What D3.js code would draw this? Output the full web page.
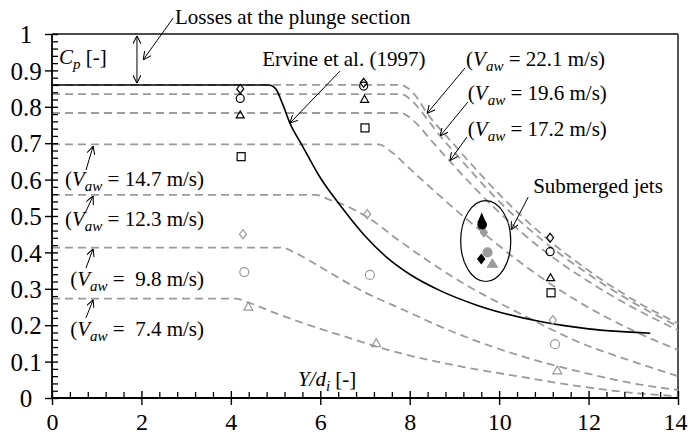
<!DOCTYPE html>
<html>
<head>
<meta charset="utf-8">
<script src="https://cdn.jsdelivr.net/npm/d3@7"></script>
<style>
  html, body { margin: 0; padding: 0; background: #fff; }
  svg { display: block; font-family: "Liberation Serif", "Times New Roman", serif; }
</style>
</head>
<body>
<svg id="chart" width="688" height="438"></svg>
<script>
// ---------- axis ticks ----------
const xTickVals = [0, 2, 4, 6, 8, 10, 12, 14];
const xTickLabels = ["0", "2", "4", "6", "8", "10", "12", "14"];
const yTickVals = [0, 0.1, 0.2, 0.3, 0.4, 0.5, 0.6, 0.7, 0.8, 0.9, 1];
const yTickLabels = ["0", "0.1", "0.2", "0.3", "0.4", "0.5", "0.6", "0.7", "0.8", "0.9", "1"];

// ---------- model curves, [Y/di, Cp] ----------
const curve221 = [[0,0.86],[7.8,0.86],[8.1,0.835],[8.39,0.782],[9,0.695],[10,0.56],[11,0.445],[12,0.35],[13,0.27],[14,0.205]];
const curve196 = [[0,0.835],[7.8,0.835],[8.1,0.81],[8.4,0.765],[8.68,0.72],[9,0.675],[10,0.54],[11,0.43],[12,0.34],[13,0.262],[14,0.197]];
const curve172 = [[0,0.783],[7.8,0.783],[8.1,0.76],[8.5,0.705],[8.9,0.65],[10,0.51],[11,0.405],[12,0.32],[13,0.248],[14,0.186]];
const curve147 = [[0,0.697],[7.3,0.697],[7.6,0.675],[8,0.63],[9,0.52],[9.66,0.452],[10.5,0.37],[11.81,0.262],[13,0.185],[14,0.132]];
const curve123 = [[0,0.558],[5.9,0.558],[6.2,0.545],[6.44,0.535],[7.05,0.497],[7.79,0.43],[9.13,0.32],[10.5,0.23],[11.81,0.152],[13,0.1],[14,0.06]];
const curve98  = [[0,0.413],[5.15,0.413],[5.45,0.398],[6,0.36],[6.44,0.328],[7,0.29],[7.79,0.246],[9,0.18],[10.5,0.115],[11.81,0.072],[13,0.04],[14,0.022]];
const curve74  = [[0,0.273],[4.1,0.273],[4.4,0.262],[5,0.233],[6,0.19],[6.44,0.173],[7.79,0.123],[9,0.09],[10.5,0.058],[11.81,0.032],[13,0.014],[14,0.005]];
const modelCurves = [curve221, curve196, curve172, curve147, curve123, curve98, curve74];

// Ervine et al. (1997)
const ervine = [[0,0.86],[4.85,0.86],[5.0,0.85],[5.15,0.81],[5.32,0.755],[5.59,0.695],[6.0,0.605],[6.44,0.53],[7,0.445],[7.5,0.385],[8,0.34],[8.68,0.295],[9.5,0.255],[10.92,0.21],[12,0.19],[13.38,0.178]];

// ---------- measurements, [Y/di, Cp] ----------
const blackDiamonds  = [[4.21,0.849],[6.97,0.866],[11.14,0.44]];
const blackCircles   = [[4.21,0.823],[6.97,0.857],[11.14,0.402]];
const blackTriangles = [[4.21,0.777],[6.99,0.82],[11.15,0.33]];
const blackSquares   = [[4.23,0.663],[7.0,0.742],[11.16,0.289]];
const greyDiamonds   = [[4.27,0.45],[7.05,0.505],[11.2,0.214]];
const greyCircles    = [[4.3,0.346],[7.11,0.338],[11.25,0.148]];
const greyTriangles  = [[4.39,0.25],[7.25,0.15],[11.3,0.075]];

// submerged jets (filled symbols)
const subBlackTriangles = [[9.61,0.492]];
const subBlackDiamonds  = [[9.61,0.483],[9.6,0.382]];
const subBlackCircles   = [[9.62,0.476]];
const subGreyDiamonds   = [[9.66,0.455]];
const subGreyCircles    = [[9.74,0.40]];
const subGreyTriangles  = [[9.85,0.368]];

// ---------- annotations ----------
const velocityLabels = ["22.1", "19.6", "17.2", "14.7", "12.3", " 9.8", " 7.4"];

// ---------- drawing ----------
const svg = d3.select("#chart");
const x = d3.scaleLinear().domain([0, 14]).range([52, 678]);
const y = d3.scaleLinear().domain([0, 1]).range([398, 34]);

const GREY = "#9b9b9b";

// frame (top and right)
svg.append("line").attr("x1", x(0)).attr("x2", x(14)).attr("y1", y(1)).attr("y2", y(1))
  .attr("stroke", "#111").attr("stroke-width", 1.6);
svg.append("line").attr("x1", x(14)).attr("x2", x(14)).attr("y1", y(1)).attr("y2", y(0))
  .attr("stroke", "#444").attr("stroke-width", 1.8);

// model curves
const line = d3.line().x(d => x(d[0])).y(d => y(d[1])).curve(d3.curveMonotoneX);
svg.append("g").selectAll("path").data(modelCurves).join("path")
  .attr("d", line)
  .attr("fill", "none")
  .attr("stroke", GREY)
  .attr("stroke-width", 1.8)
  .attr("stroke-dasharray", "8,5");

// Ervine curve
svg.append("path").datum(ervine).attr("d", line)
  .attr("fill", "none").attr("stroke", "#000").attr("stroke-width", 1.6);

// ---------- axes ----------
function cleanAxis(g) {
  g.attr("font-size", null).attr("font-family", null);
  g.select(".domain").remove();
}
const isMajor = (v, step) => Math.abs(v / step - Math.round(v / step)) < 1e-6;

// x minor ticks
const xMinor = d3.range(1, 35).map(i => i * 0.4).filter(v => !isMajor(v, 2));
svg.append("g").attr("transform", `translate(0,${y(0)})`)
  .call(d3.axisBottom(x).tickValues(xMinor).tickSize(-6).tickFormat(""))
  .call(cleanAxis)
  .selectAll("line").attr("stroke", "#000").attr("stroke-width", 1.3);

// x major ticks
const gx = svg.append("g").attr("transform", `translate(0,${y(0)})`)
  .call(d3.axisBottom(x).tickValues(xTickVals).tickSize(7)
    .tickFormat((d, i) => xTickLabels[i]))
  .call(cleanAxis);
gx.selectAll(".tick line").attr("y1", -7).attr("stroke", "#000").attr("stroke-width", 1.4);
gx.selectAll(".tick text").attr("y", 32).attr("dy", null)
  .attr("font-size", 24).attr("fill", "#000");
// keep the last label inside the canvas
gx.selectAll(".tick text").filter(d => d === 14)
  .attr("text-anchor", "end").attr("x", 9);

// y minor ticks
const yMinor = d3.range(1, 50).map(i => i * 0.02).filter(v => !isMajor(v, 0.1));
svg.append("g").attr("transform", `translate(${x(0)},0)`)
  .call(d3.axisLeft(y).tickValues(yMinor).tickSize(-6).tickFormat(""))
  .call(cleanAxis)
  .selectAll("line").attr("stroke", "#000").attr("stroke-width", 1.3);

// y major ticks
const gy = svg.append("g").attr("transform", `translate(${x(0)},0)`)
  .call(d3.axisLeft(y).tickValues(yTickVals).tickSize(7)
    .tickFormat((d, i) => yTickLabels[i]))
  .call(cleanAxis);
gy.selectAll(".tick line").attr("x1", 6).attr("stroke", "#000").attr("stroke-width", 1.4);
gy.selectAll(".tick text").attr("x", -26).attr("dy", "0.35em")
  .attr("text-anchor", "middle").attr("font-size", 25).attr("fill", "#000");

// axis lines
svg.append("line").attr("x1", x(0)).attr("x2", x(14)).attr("y1", y(0)).attr("y2", y(0))
  .attr("stroke", "#000").attr("stroke-width", 1.8);
svg.append("line").attr("x1", x(0)).attr("x2", x(0)).attr("y1", y(0)).attr("y2", y(1))
  .attr("stroke", "#000").attr("stroke-width", 1.8);

// ---------- markers ----------
const mk = svg.append("g");
function diamonds(data, color, filled, w, h) {
  mk.append("g").selectAll("path").data(data).join("path")
    .attr("d", d => { const cx = x(d[0]), cy = y(d[1]);
      return `M${cx},${cy - h}L${cx + w},${cy}L${cx},${cy + h}L${cx - w},${cy}Z`; })
    .attr("fill", filled ? color : "none").attr("stroke", color).attr("stroke-width", 1.2);
}
function circles(data, color, filled, r) {
  mk.append("g").selectAll("circle").data(data).join("circle")
    .attr("cx", d => x(d[0])).attr("cy", d => y(d[1])).attr("r", r)
    .attr("fill", filled ? color : "none").attr("stroke", color).attr("stroke-width", 1.2);
}
function triangles(data, color, filled, w, h) {
  mk.append("g").selectAll("path").data(data).join("path")
    .attr("d", d => { const cx = x(d[0]), cy = y(d[1]);
      return `M${cx},${cy - h * 0.6}L${cx + w},${cy + h * 0.4}L${cx - w},${cy + h * 0.4}Z`; })
    .attr("fill", filled ? color : "none").attr("stroke", color).attr("stroke-width", 1.2);
}
function squares(data, color, filled, s) {
  mk.append("g").selectAll("rect").data(data).join("rect")
    .attr("x", d => x(d[0]) - s / 2).attr("y", d => y(d[1]) - s / 2)
    .attr("width", s).attr("height", s)
    .attr("fill", filled ? color : "none").attr("stroke", color).attr("stroke-width", 1.2);
}

diamonds(blackDiamonds, "#000", false, 3.5, 4.5);
circles(blackCircles, "#000", false, 4);
triangles(blackTriangles, "#000", false, 4, 7);
squares(blackSquares, "#000", false, 8);
diamonds(greyDiamonds, GREY, false, 3.5, 4.5);
circles(greyCircles, GREY, false, 4.5);
triangles(greyTriangles, GREY, false, 4.5, 8);

diamonds(subGreyDiamonds, GREY, true, 3.5, 4.5);
circles(subGreyCircles, GREY, true, 4.5);
triangles(subGreyTriangles, GREY, true, 5, 8);
circles(subBlackCircles, "#000", true, 4.2);
triangles(subBlackTriangles, "#000", true, 3.5, 8);
diamonds(subBlackDiamonds, "#000", true, 3.5, 4.5);

// submerged jets ellipse
svg.append("ellipse")
  .attr("cx", x(9.70)).attr("cy", y(0.431))
  .attr("rx", x(0.56) - x(0)).attr("ry", y(0) - y(0.111))
  .attr("fill", "none").attr("stroke", "#000").attr("stroke-width", 1.2);

// ---------- arrows ----------
const defs = svg.append("defs");
defs.append("marker").attr("id", "head").attr("viewBox", "0 0 10 10")
  .attr("refX", 10).attr("refY", 5).attr("markerWidth", 8).attr("markerHeight", 8)
  .attr("markerUnits", "userSpaceOnUse").attr("orient", "auto-start-reverse")
  .append("path").attr("d", "M0,0L10,5L0,10").attr("fill", "none")
  .attr("stroke", "#000").attr("stroke-width", 1.3);

const arrowLines = [
  { from: [2.71, 1.044], to: [2.04, 0.929] },
  { from: [6.44, 0.898], to: [5.32, 0.755] },
  { from: [9.24, 0.907], to: [8.39, 0.782] },
  { from: [9.30, 0.813], to: [8.68, 0.72] },
  { from: [9.28, 0.717], to: [8.90, 0.652] },
  { from: [0.76, 0.626], to: [0.92, 0.692] },
  { from: [0.74, 0.508], to: [0.92, 0.555] },
  { from: [0.76, 0.357], to: [0.92, 0.41] },
  { from: [0.76, 0.220], to: [0.92, 0.270] },
  { from: [10.65, 0.552], to: [10.27, 0.462] }
];
svg.append("g").selectAll("line").data(arrowLines).join("line")
  .attr("x1", d => x(d.from[0])).attr("y1", d => y(d.from[1]))
  .attr("x2", d => x(d.to[0])).attr("y2", d => y(d.to[1]))
  .attr("stroke", "#000").attr("stroke-width", 1)
  .attr("marker-end", "url(#head)");

// losses: double-headed arrow between Cp = 1 and the plateau
svg.append("line")
  .attr("x1", x(1.9)).attr("x2", x(1.9)).attr("y1", y(0.995)).attr("y2", y(0.865))
  .attr("stroke", "#000").attr("stroke-width", 1)
  .attr("marker-start", "url(#head)").attr("marker-end", "url(#head)");

// ---------- texts ----------
const FS = 21;
const txt = svg.append("g").attr("fill", "#000").attr("font-size", FS);

txt.append("text").attr("x", x(2.75)).attr("y", y(1.027)).text("Losses at the plunge section");
txt.append("text").attr("x", x(4.70)).attr("y", y(0.912)).text("Ervine et al. (1997)");
txt.append("text").attr("x", x(10.76)).attr("y", y(0.563)).text("Submerged jets");

// C_p [-]
const cp = txt.append("text").attr("x", x(0.157)).attr("y", y(0.918));
cp.append("tspan").attr("font-style", "italic").text("C");
cp.append("tspan").attr("font-style", "italic").attr("font-size", 15).attr("dy", 5).text("p");
cp.append("tspan").attr("dy", -5).text(" [-]");

// Y/d_i [-]
const yd = txt.append("text").attr("x", x(5.50)).attr("y", y(0.033));
yd.append("tspan").attr("font-style", "italic").text("Y/d");
yd.append("tspan").attr("font-style", "italic").attr("font-size", 15).attr("dy", 5).text("i");
yd.append("tspan").attr("dy", -5).text(" [-]");

function velocityText(px, py, anchor, value) {
  const t = txt.append("text").attr("x", px).attr("y", py)
    .attr("text-anchor", anchor).attr("xml:space", "preserve").style("white-space", "pre");
  t.append("tspan").text("(");
  t.append("tspan").attr("font-style", "italic").text("V");
  t.append("tspan").attr("font-style", "italic").attr("font-size", 15).attr("dy", 5).text("aw");
  t.append("tspan").attr("dy", -5).text(` = ${value} m/s)`);
}
// right-hand group
velocityText(x(9.26), y(0.912), "start", velocityLabels[0]);
velocityText(x(9.30), y(0.819), "start", velocityLabels[1]);
velocityText(x(9.30), y(0.720), "start", velocityLabels[2]);
// left-hand group
velocityText(x(3.40), y(0.582), "end", velocityLabels[3]);
velocityText(x(3.40), y(0.4725), "end", velocityLabels[4]);
velocityText(x(3.40), y(0.308), "end", velocityLabels[5]);
velocityText(x(3.40), y(0.170), "end", velocityLabels[6]);
</script>
</body>
</html>
